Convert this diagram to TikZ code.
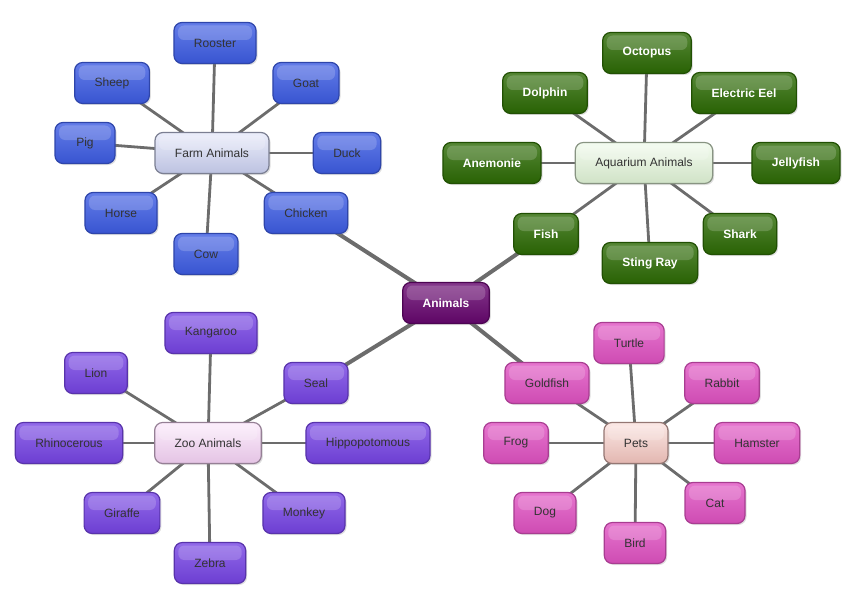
\documentclass[tikz,border=0pt]{standalone}
\usepackage{fontspec}
\setmainfont{Liberation Sans}
\usetikzlibrary{shadows,backgrounds}
\definecolor{farmc}{HTML}{3D5CE3}
\definecolor{farmh}{HTML}{CDD3F4}
\definecolor{aquac}{HTML}{2C6A04}
\definecolor{aquah}{HTML}{E2F6D8}
\definecolor{zooc}{HTML}{7644E4}
\definecolor{zooh}{HTML}{F8D4F8}
\definecolor{petc}{HTML}{E052C2}
\definecolor{peth}{HTML}{F6C6BF}
\definecolor{rootc}{HTML}{66066E}
\definecolor{linkc}{HTML}{6C6C6C}
\begin{document}
\begin{tikzpicture}[x=1pt, y=-1pt, line join=round, line cap=round,
	font=\fontsize{12}{14}\selectfont,
	box/.style={rounded corners=8pt, minimum width=60pt, minimum height=41pt, inner xsep=20pt,
		line width=1.2pt, text=black!80,
		drop shadow={opacity=.25, shadow xshift=1.5pt, shadow yshift=-1.5pt},
		path picture={\fill[white, opacity=.18, rounded corners=6pt]
			([shift={(4pt,-3pt)}]path picture bounding box.north west) rectangle
			([shift={(-4pt,3pt)}]path picture bounding box.east);}},
	leaf/.style={box, top color=#1!80!white, bottom color=#1!92!black, draw=#1!75!black},
	hub/.style={box, top color=#1!40!white, bottom color=#1!92!black, draw=#1!60!black},
	light/.style={text=white, font=\fontsize{12}{14}\selectfont\bfseries},
	trunk/.style={draw=linkc, line width=4pt},
	twig/.style={draw=linkc, line width=2.8pt}]
	\useasboundingbox (0,0) rectangle (847,594);
	% centre
	\node[leaf=rootc, light] (animals) at (446,303) {Animals};
	% farm
	\node[hub=farmh] (farm) at (212,153) {Farm Animals};
	\node[leaf=farmc] (rooster) at (215,43) {Rooster};
	\node[leaf=farmc] (sheep) at (112,83) {Sheep};
	\node[leaf=farmc] (goat) at (306,83) {Goat};
	\node[leaf=farmc] (pig) at (85,143) {Pig};
	\node[leaf=farmc] (duck) at (347,153) {Duck};
	\node[leaf=farmc] (horse) at (121,213) {Horse};
	\node[leaf=farmc] (cow) at (206,254) {Cow};
	\node[leaf=farmc] (chicken) at (306,213) {Chicken};
	% aquarium
	\node[hub=aquah] (aquarium) at (644,163) {Aquarium Animals};
	\node[leaf=aquac, light] (octopus) at (647,53) {Octopus};
	\node[leaf=aquac, light] (dolphin) at (545,93) {Dolphin};
	\node[leaf=aquac, light] (eel) at (744,93) {Electric Eel};
	\node[leaf=aquac, light] (anemonie) at (492,163) {Anemonie};
	\node[leaf=aquac, light] (jellyfish) at (796,163) {Jellyfish};
	\node[leaf=aquac, light] (fish) at (546,234) {Fish};
	\node[leaf=aquac, light] (stingray) at (650,263) {Sting Ray};
	\node[leaf=aquac, light] (shark) at (740,234) {Shark};
	% zoo
	\node[hub=zooh] (zoo) at (208,443) {Zoo Animals};
	\node[leaf=zooc] (kangaroo) at (211,333) {Kangaroo};
	\node[leaf=zooc] (lion) at (96,373) {Lion};
	\node[leaf=zooc] (seal) at (316,383) {Seal};
	\node[leaf=zooc] (rhino) at (69,443) {Rhinocerous};
	\node[leaf=zooc] (hippo) at (368,443) {Hippopotomous};
	\node[leaf=zooc] (giraffe) at (122,513) {Giraffe};
	\node[leaf=zooc] (monkey) at (304,513) {Monkey};
	\node[leaf=zooc] (zebra) at (210,563) {Zebra};
	% pets
	\node[hub=peth] (pets) at (636,443) {Pets};
	\node[leaf=petc] (goldfish) at (547,383) {Goldfish};
	\node[leaf=petc] (turtle) at (629,343) {Turtle};
	\node[leaf=petc] (rabbit) at (722,383) {Rabbit};
	\node[leaf=petc] (frog) at (516,443) {Frog};
	\node[leaf=petc] (hamster) at (757,443) {Hamster};
	\node[leaf=petc] (dog) at (545,513) {Dog};
	\node[leaf=petc] (cat) at (715,503) {Cat};
	\node[leaf=petc] (bird) at (635,543) {Bird};
	% links
	\begin{scope}[on background layer]
		\foreach \b in {chicken,fish,seal,goldfish} \draw[trunk] (animals.center)--(\b.center);
		\foreach \b in {rooster,sheep,goat,pig,duck,horse,cow,chicken} \draw[twig] (farm.center)--(\b.center);
		\foreach \b in {octopus,dolphin,eel,anemonie,jellyfish,fish,stingray,shark} \draw[twig] (aquarium.center)--(\b.center);
		\foreach \b in {kangaroo,lion,seal,rhino,hippo,giraffe,monkey,zebra} \draw[twig] (zoo.center)--(\b.center);
		\foreach \b in {goldfish,turtle,rabbit,frog,hamster,dog,cat,bird} \draw[twig] (pets.center)--(\b.center);
	\end{scope}
\end{tikzpicture}
\end{document}
